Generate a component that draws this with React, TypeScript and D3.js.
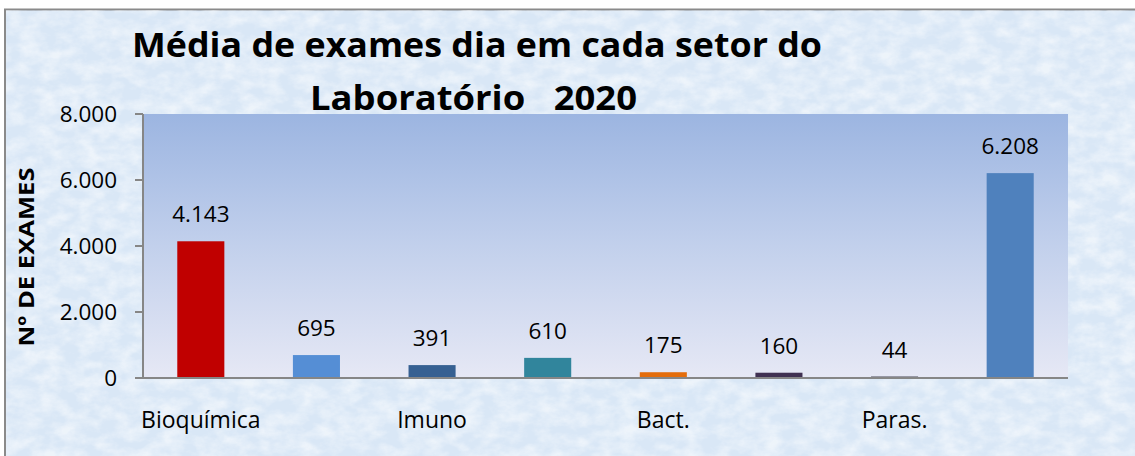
import React from "react";
import * as d3 from "d3";

const categoryLabels = ["Bioquímica", "", "Imuno", "", "Bact.", "", "Paras.", ""];
const values = [4143, 695, 391, 610, 175, 160, 44, 6208];
const barColors = ["#C00000", "#558ED5", "#366092", "#31859C", "#E46C0A", "#403152", "#3A3A48", "#4F81BD"];
const yTicks = [0, 2000, 4000, 6000, 8000];
const titleLines = ["Média de exames dia em cada setor do", "Laboratório   2020"];
const yAxisTitle = "Nº DE EXAMES";

const W = 1135;
const H = 456;
const plot = { left: 143, right: 1068, top: 114, bottom: 378 };

const locale = d3.formatLocale({ decimal: ",", thousands: ".", grouping: [3], currency: ["", ""] });
const fmt = locale.format(",");

export default function App() {
  const keys = categoryLabels.map((_, i) => i);
  const x = d3
    .scaleBand<number>()
    .domain(keys)
    .range([plot.left, plot.right])
    .paddingInner(0.593)
    .paddingOuter(0.2965);
  const y = d3.scaleLinear().domain([0, 8000]).range([plot.bottom, plot.top]);
  const font = "'Open Sans', 'DejaVu Sans', sans-serif";

  return (
    <svg
      width={W}
      height={H}
      style={{ position: "absolute", left: 0, top: 0, display: "block" }}
      fontFamily={font}
    >
      <defs>
        <linearGradient id="plotGrad" x1="0" y1="0" x2="0" y2="1">
          <stop offset="0" stopColor="#9CB5E1" />
          <stop offset="0.5" stopColor="#C2D0EC" />
          <stop offset="1" stopColor="#E6E8F5" />
        </linearGradient>
        <filter id="tex" x="0" y="0" width="100%" height="100%">
          <feTurbulence type="fractalNoise" baseFrequency="0.05 0.08" numOctaves="4" seed="7" result="n" />
          <feColorMatrix
            in="n"
            type="matrix"
            values="0 0 0 0 1  0 0 0 0 1  0 0 0 0 1  0 0 0 -2.0 1.35"
          />
        </filter>
      </defs>
      <rect x={0} y={0} width={W} height={H} fill="#ffffff" />
      <rect x={5} y={9.5} width={W + 10} height={H + 10} fill="#D9E7F6" stroke="#8A8A8A" strokeWidth={2} />
      <rect x={6} y={10.5} width={W} height={H} filter="url(#tex)" opacity={0.55} />

      {/* plot area */}
      <rect
        x={plot.left}
        y={plot.top}
        width={plot.right - plot.left}
        height={plot.bottom - plot.top}
        fill="url(#plotGrad)"
      />

      {/* title */}
      <text x={477} y={57} textAnchor="middle" fontSize={34} fontWeight="bold" fill="#000" textLength={690} lengthAdjust="spacingAndGlyphs">
        {titleLines[0]}
      </text>
      <text x={473.5} y={110} textAnchor="middle" fontSize={34} fontWeight="bold" fill="#000" textLength={327} lengthAdjust="spacingAndGlyphs" style={{ whiteSpace: "pre" }}>
        {titleLines[1]}
      </text>

      {/* bars */}
      {values.map((v, i) => (
        <rect
          key={"b" + i}
          x={x(i)!}
          y={y(v)}
          width={x.bandwidth()}
          height={y(0) - y(v)}
          fill={barColors[i]}
        />
      ))}

      {/* data labels */}
      {values.map((v, i) => (
        <text
          key={"l" + i}
          x={x(i)! + x.bandwidth() / 2}
          y={y(v) - 19}
          textAnchor="middle"
          fontSize={22.5}
          fill="#000"
        >
          {fmt(v)}
        </text>
      ))}

      {/* y axis */}
      <line x1={plot.left} x2={plot.left} y1={plot.top} y2={plot.bottom} stroke="#868686" strokeWidth={2} />
      {yTicks.map((t) => (
        <g key={"t" + t}>
          <line x1={plot.left - 8} x2={plot.left} y1={y(t)} y2={y(t)} stroke="#868686" strokeWidth={2} />
          <text x={117} y={y(t) + 8} textAnchor="end" fontSize={22.5} fill="#000">
            {fmt(t)}
          </text>
        </g>
      ))}

      {/* x axis */}
      <line x1={plot.left} x2={plot.right} y1={plot.bottom} y2={plot.bottom} stroke="#868686" strokeWidth={2} />
      {categoryLabels.map((c, i) =>
        c ? (
          <text
            key={"c" + i}
            x={x(i)! + x.bandwidth() / 2}
            y={428}
            textAnchor="middle"
            fontSize={23}
            fill="#000"
          >
            {c}
          </text>
        ) : null
      )}

      {/* y axis title */}
      <text
        transform="translate(34,257) rotate(-90)"
        textAnchor="middle"
        fontSize={21}
        fontWeight="bold"
        fill="#000"
        textLength={179}
        lengthAdjust="spacingAndGlyphs"
      >
        {yAxisTitle}
      </text>
    </svg>
  );
}
